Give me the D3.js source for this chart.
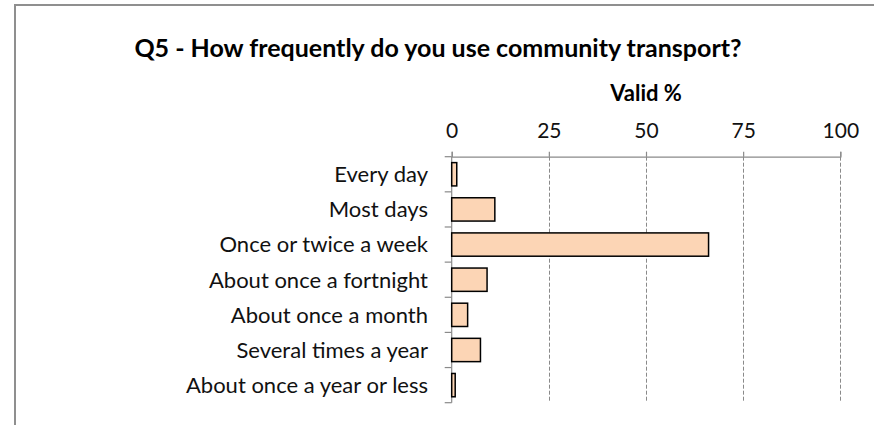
<!DOCTYPE html>
<html>
<head>
<meta charset="utf-8">
<script src="https://cdn.jsdelivr.net/npm/d3@7"></script>
<style>
  html, body { margin: 0; padding: 0; background: #fff; }
  svg { display: block; }
</style>
</head>
<body>
<div id="chart"></div>
<script>
const categories = [
  "Every day",
  "Most days",
  "Once or twice a week",
  "About once a fortnight",
  "About once a month",
  "Several times a year",
  "About once a year or less"
];
const values = [1.3, 11.1, 66.1, 9.1, 4.1, 7.4, 0.9];
const tickValues = [0, 25, 50, 75, 100];
const chartTitle = "Q5 - How frequently do you use community transport?";
const axisTitle = "Valid %";

const W = 874, H = 425;
const FONT = "Lato, 'Open Sans', sans-serif";

const svg = d3.select("#chart").append("svg")
  .attr("width", W).attr("height", H);

svg.append("rect").attr("width", W).attr("height", H).attr("fill", "#fff");

// outer chart border (extends beyond the visible window right and bottom)
svg.append("rect")
  .attr("x", 15).attr("y", 5)
  .attr("width", 900).attr("height", 500)
  .attr("fill", "none")
  .attr("stroke", "#8f8f8f")
  .attr("stroke-width", 2);

const x = d3.scaleLinear().domain([0, 100]).range([451.7, 840.3]);
const y = d3.scaleBand().domain(categories)
  .range([156.7, 402.7])
  .paddingInner(0.337).paddingOuter(0.1685);

const step = y.step();
const y0 = y.range()[0], y1 = y.range()[1];

// dashed gridlines
svg.append("g").selectAll("line")
  .data(tickValues.filter(d => d !== 0))
  .join("line")
  .attr("x1", d => Math.round(x(d)) + 0.5).attr("x2", d => Math.round(x(d)) + 0.5)
  .attr("y1", y0).attr("y2", y1)
  .attr("stroke", "#8a8a8a")
  .attr("stroke-width", 1)
  .attr("stroke-dasharray", "4,2");

// top axis
const xAxis = d3.axisTop(x).tickValues(tickValues).tickSize(5).tickPadding(14)
  .tickFormat(d3.format("d"));
const gx = svg.append("g")
  .attr("transform", `translate(0,${y0})`)
  .call(xAxis);
gx.select(".domain").attr("stroke", "#8a8a8a").attr("stroke-width", 1.2);
gx.selectAll(".tick line").attr("stroke", "#8a8a8a").attr("stroke-width", 1.2);
gx.selectAll(".tick text")
  .attr("font-family", FONT).attr("font-size", 21).attr("fill", "#111");

// left axis line with category boundary ticks
svg.append("line")
  .attr("x1", x(0)).attr("x2", x(0))
  .attr("y1", y0).attr("y2", y1)
  .attr("stroke", "#8a8a8a").attr("stroke-width", 1.2);
const boundaries = d3.range(categories.length + 1);
svg.append("g").selectAll("line")
  .data(boundaries)
  .join("line")
  .attr("x1", x(0) - 7).attr("x2", x(0))
  .attr("y1", i => y0 + i * step).attr("y2", i => y0 + i * step)
  .attr("stroke", "#8a8a8a").attr("stroke-width", 1.2);

// category labels
svg.append("g").selectAll("text")
  .data(categories)
  .join("text")
  .attr("x", 428)
  .attr("y", d => y(d) + y.bandwidth() / 2)
  .attr("dy", "0.36em")
  .attr("text-anchor", "end")
  .attr("font-family", FONT).attr("font-size", 22).attr("fill", "#111")
  .text(d => d);

// bars
svg.append("g").selectAll("rect")
  .data(values)
  .join("rect")
  .attr("x", x(0))
  .attr("y", (d, i) => y(categories[i]))
  .attr("width", d => x(d) - x(0))
  .attr("height", y.bandwidth())
  .attr("fill", "#fcd5b5")
  .attr("stroke", "#000")
  .attr("stroke-width", 1.5);

// titles
svg.append("text")
  .attr("x", 438).attr("y", 57)
  .attr("text-anchor", "middle")
  .attr("font-family", FONT).attr("font-weight", "bold").attr("font-size", 25)
  .attr("fill", "#000")
  .text(chartTitle);

svg.append("text")
  .attr("x", (x(0) + x(100)) / 2).attr("y", 101)
  .attr("text-anchor", "middle")
  .attr("font-family", FONT).attr("font-weight", "bold").attr("font-size", 22)
  .attr("fill", "#000")
  .text(axisTitle);
</script>
</body>
</html>
